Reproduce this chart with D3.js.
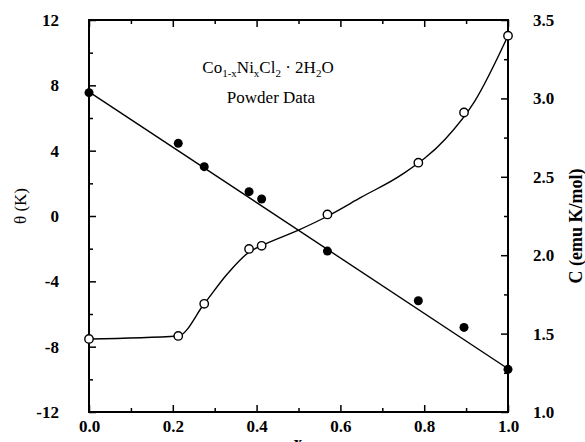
<!DOCTYPE html>
<html>
<head>
<meta charset="utf-8">
<script src="https://cdn.jsdelivr.net/npm/d3@7"></script>
<style>
  body { margin: 0; background: #fff; }
  svg { display: block; }
  .axis path { display: none; }
  .axis line { stroke: #000; stroke-width: 1.5; }
  .axis text { font-family: "Liberation Serif", "Times New Roman", serif; font-weight: bold; font-size: 17px; fill: #000; }
</style>
</head>
<body>
<script>
// data
var xs = [0.0, 0.213, 0.275, 0.382, 0.412, 0.569, 0.786, 0.895, 1.0];
var theta = [7.55, 4.45, 3.02, 1.49, 1.04, -2.15, -5.19, -6.82, -9.39];
var curie = [1.466, 1.485, 1.69, 2.04, 2.06, 2.26, 2.59, 2.91, 3.40];

// fitted lines
var thetaFitX = [0.0, 1.0];
var thetaFit = [7.6, -9.35];
var curieFitX = [0.0, 0.213, 0.275, 0.33, 0.382, 0.42, 0.5, 0.57, 0.65, 0.75, 0.85, 0.92, 1.0];
var curieFit = [1.466, 1.485, 1.69, 1.88, 2.02, 2.07, 2.16, 2.25, 2.37, 2.52, 2.74, 2.98, 3.40];

var xTicks = [0, 0.2, 0.4, 0.6, 0.8, 1.0];
var yLeftTicks = [-12, -8, -4, 0, 4, 8, 12];
var yRightTicks = [1.0, 1.5, 2.0, 2.5, 3.0, 3.5];

var w = 585, h = 442;
var plotLeft = 89, plotRight = 508, plotTop = 20, plotBottom = 412;

var svg = d3.select("body").append("svg")
  .attr("width", w)
  .attr("height", h);

var x = d3.scaleLinear().domain([0, 1]).range([plotLeft, plotRight]);
var yL = d3.scaleLinear().domain([-12, 12]).range([plotBottom, plotTop]);
var yR = d3.scaleLinear().domain([1.0, 3.5]).range([plotBottom, plotTop]);

// minor ticks
var xMinor = d3.range(1, 10, 2).map(d => d / 10);
var yLMinor = d3.range(-10, 12, 4);
var yRMinor = d3.range(1.25, 3.5, 0.5);

svg.append("g").attr("class", "axis")
  .attr("transform", `translate(0,${plotBottom})`)
  .call(d3.axisBottom(x).tickValues(xTicks).tickFormat(d => d.toFixed(1)).tickSize(-7).tickPadding(8));
svg.append("g").attr("class", "axis")
  .attr("transform", `translate(0,${plotBottom})`)
  .call(d3.axisBottom(x).tickValues(xMinor).tickFormat("").tickSize(-4));
svg.append("g").attr("class", "axis")
  .attr("transform", `translate(0,${plotTop})`)
  .call(d3.axisTop(x).tickValues(xTicks).tickFormat("").tickSize(-7));
svg.append("g").attr("class", "axis")
  .attr("transform", `translate(0,${plotTop})`)
  .call(d3.axisTop(x).tickValues(xMinor).tickFormat("").tickSize(-4));

svg.append("g").attr("class", "axis")
  .attr("transform", `translate(${plotLeft},0)`)
  .call(d3.axisLeft(yL).tickValues(yLeftTicks).tickFormat(d => String(d)).tickSize(-7).tickPadding(30));
svg.append("g").attr("class", "axis")
  .attr("transform", `translate(${plotLeft},0)`)
  .call(d3.axisLeft(yL).tickValues(yLMinor).tickFormat("").tickSize(-4));

svg.append("g").attr("class", "axis")
  .attr("transform", `translate(${plotRight},0)`)
  .call(d3.axisRight(yR).tickValues(yRightTicks).tickFormat(d => d.toFixed(1)).tickSize(-7).tickPadding(25));
svg.append("g").attr("class", "axis")
  .attr("transform", `translate(${plotRight},0)`)
  .call(d3.axisRight(yR).tickValues(yRMinor).tickFormat("").tickSize(-4));

// frame
svg.append("rect")
  .attr("x", plotLeft).attr("y", plotTop)
  .attr("width", plotRight - plotLeft).attr("height", plotBottom - plotTop)
  .attr("fill", "none").attr("stroke", "#000").attr("stroke-width", 2);

// theta fit line
var thetaLine = d3.line()
  .x((d, i) => x(thetaFitX[i]))
  .y(d => yL(d));
svg.append("path")
  .datum(thetaFit)
  .attr("d", thetaLine)
  .attr("fill", "none").attr("stroke", "#000").attr("stroke-width", 1.4);

// curie fit curve
var curieLine = d3.line()
  .x((d, i) => x(curieFitX[i]))
  .y(d => yR(d))
  .curve(d3.curveMonotoneX);
svg.append("path")
  .datum(curieFit)
  .attr("d", curieLine)
  .attr("fill", "none").attr("stroke", "#000").attr("stroke-width", 1.4);

// points
svg.selectAll(".theta")
  .data(theta)
  .enter()
  .append("circle")
  .attr("class", "theta")
  .attr("cx", (d, i) => x(xs[i]))
  .attr("cy", d => yL(d))
  .attr("r", 4.5)
  .attr("fill", "#000");

svg.selectAll(".curie")
  .data(curie)
  .enter()
  .append("circle")
  .attr("class", "curie")
  .attr("cx", (d, i) => x(xs[i]))
  .attr("cy", d => yR(d))
  .attr("r", 4.2)
  .attr("fill", "#fff")
  .attr("stroke", "#000")
  .attr("stroke-width", 1.4);

// axis titles
var serif = '"Liberation Serif", "Times New Roman", serif';
svg.append("text")
  .attr("transform", "translate(26,206) rotate(-90)")
  .attr("text-anchor", "middle")
  .style("font-family", serif)
  .style("font-size", "17px")
  .text("θ (K)");

svg.append("text")
  .attr("transform", "translate(582,226) rotate(-90)")
  .attr("text-anchor", "middle")
  .style("font-family", serif)
  .style("font-weight", "bold")
  .style("font-size", "18px")
  .text("C (emu  K/mol)");

svg.append("text")
  .attr("x", 298).attr("y", 448)
  .attr("text-anchor", "middle")
  .style("font-family", serif)
  .style("font-weight", "bold")
  .style("font-size", "17px")
  .text("x");

// annotation
var note = svg.append("text")
  .attr("x", 268).attr("y", 73)
  .attr("text-anchor", "middle")
  .style("font-family", serif)
  .style("font-size", "17px");
note.append("tspan").text("Co");
note.append("tspan").attr("dy", 4).style("font-size", "11px").text("1-x");
note.append("tspan").attr("dy", -4).text("Ni");
note.append("tspan").attr("dy", 4).style("font-size", "11px").text("x");
note.append("tspan").attr("dy", -4).text("Cl");
note.append("tspan").attr("dy", 4).style("font-size", "11px").text("2");
note.append("tspan").attr("dy", -4).text(" · 2H");
note.append("tspan").attr("dy", 4).style("font-size", "11px").text("2");
note.append("tspan").attr("dy", -4).text("O");

svg.append("text")
  .attr("x", 271).attr("y", 103)
  .attr("text-anchor", "middle")
  .style("font-family", serif)
  .style("font-size", "17px")
  .text("Powder Data");
</script>
</body>
</html>
